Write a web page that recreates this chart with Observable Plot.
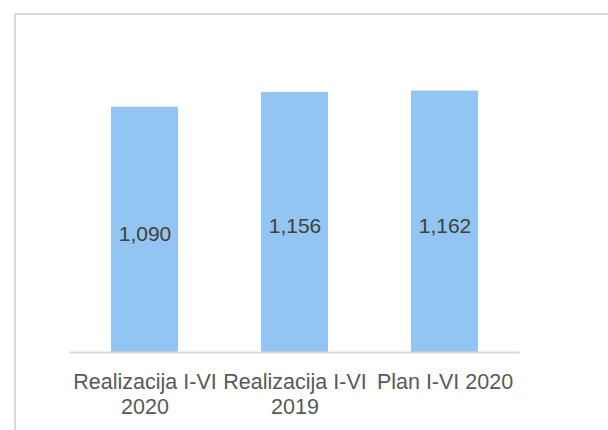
<!DOCTYPE html>
<html>
<head>
<meta charset="utf-8">
<script src="https://cdn.jsdelivr.net/npm/d3@7"></script>
<script src="https://cdn.jsdelivr.net/npm/@observablehq/plot@0.6"></script>
<style>
  html, body { margin: 0; padding: 0; background: #fff; }
  #wrap { position: relative; width: 608px; height: 430px; overflow: hidden; }
  #frame { position: absolute; left: 14px; top: 13px; width: 700px; height: 500px; border: 2px solid #d9d9d9; box-sizing: border-box; }
  #chart { position: absolute; left: 0; top: 0; }
</style>
</head>
<body>
<div id="wrap"><div id="frame"></div><div id="chart"></div></div>
<script>
const categories = ["Realizacija I-VI\n2020", "Realizacija I-VI\n2019", "Plan I-VI 2020"];
const values = [1090, 1156, 1162];
const valueLabels = ["1,090", "1,156", "1,162"];

const data = categories.map((c, i) => ({category: c, value: values[i], label: valueLabels[i]}));

const chart = Plot.plot({
  width: 608,
  height: 430,
  marginLeft: 69.5,
  marginRight: 88.5,
  marginTop: 37,
  marginBottom: 78,
  style: {fontFamily: "Liberation Sans, Arial, sans-serif", background: "transparent", color: "#595959"},
  x: {domain: categories, paddingInner: 0.553, paddingOuter: 0.2765, label: null},
  y: {domain: [0, 1400], axis: null},
  marks: [
    Plot.barY(data, {x: "category", y: "value", fill: "#92c5f2"}),
    Plot.ruleY([0], {stroke: "#d9d9d9", strokeWidth: 2}),
    Plot.text(data, {x: "category", y: d => d.value / 2, text: "label", dy: 4, fontSize: 21, fill: "#404040"}),
    Plot.axisX({tickSize: 0, tickPadding: 18.5, fontSize: 21.5, fill: "#595959", lineHeight: 1.18})
  ]
});
document.getElementById("chart").appendChild(chart);
</script>
</body>
</html>
